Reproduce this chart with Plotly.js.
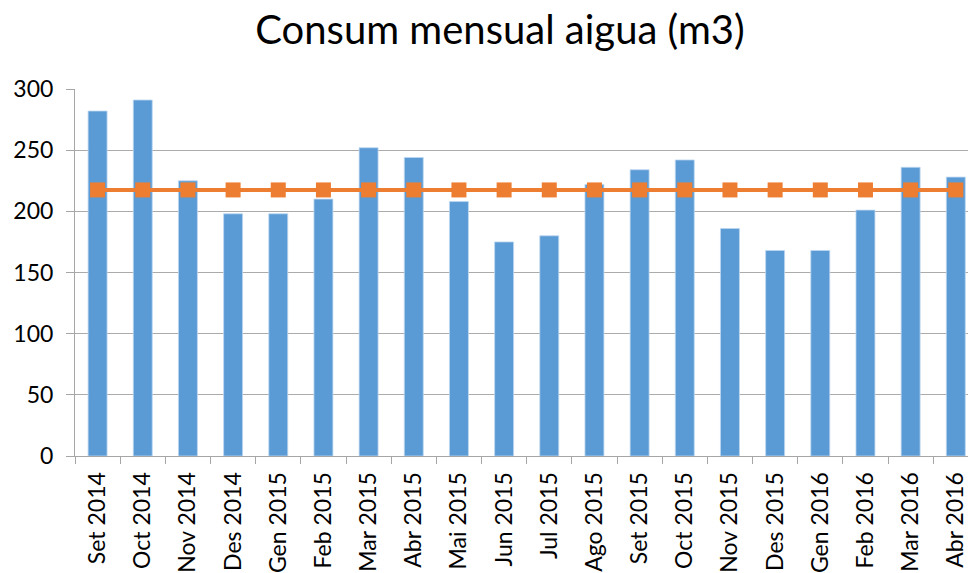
<!DOCTYPE html>
<html>
<head>
<meta charset="utf-8">
<script src="https://cdn.plot.ly/plotly-3.0.1.min.js"></script>
<style>html,body{margin:0;padding:0;overflow:hidden;background:#fff}#chart{width:968px;height:573px}</style>
</head>
<body>
<div id="chart"></div>
<script>
const months = ["Set 2014","Oct 2014","Nov 2014","Des 2014","Gen 2015","Feb 2015","Mar 2015","Abr 2015","Mai 2015","Jun 2015","Jul 2015","Ago 2015","Set 2015","Oct 2015","Nov 2015","Des 2015","Gen 2016","Feb 2016","Mar 2016","Abr 2016"];
const consum = [282,291,225,198,198,210,252,244,208,175,180,222,234,242,186,168,168,201,236,228];
const mitjana = [217.5,217.5,217.5,217.5,217.5,217.5,217.5,217.5,217.5,217.5,217.5,217.5,217.5,217.5,217.5,217.5,217.5,217.5,217.5,217.5];

const font = "Lato, Calibri, Carlito, sans-serif";
const data = [
  {type:"bar", x:months, y:consum, marker:{color:"#5B9BD5", line:{color:"rgba(190,215,240,0.8)", width:1}}, hoverinfo:"x+y"},
  {type:"scatter", mode:"lines+markers", x:months, y:mitjana,
   line:{color:"#ED7D31", width:4}, marker:{symbol:"square", size:15, color:"#ED7D31"}}
];
const layout = {
  width:968, height:573,
  margin:{l:75, r:0, t:89, b:117},
  paper_bgcolor:"#fff", plot_bgcolor:"#fff",
  showlegend:false,
  bargap:0.58,
  title:{text:"Consum mensual aigua (m3)", font:{family:font, size:40, color:"#000"}, x:500/968, xanchor:"center", xref:"container", y:1-30/573, yanchor:"middle"},
  xaxis:{type:"category", range:[-0.5, 19.27], showgrid:false, showline:true, linecolor:"#A6A6A6", linewidth:1,
    ticks:"outside", tickson:"boundaries", ticklen:7, tickcolor:"#A6A6A6", tickangle:-90, ticklabelstandoff:6,
    tickfont:{family:font, size:23, color:"#000"}, automargin:false, fixedrange:true},
  yaxis:{range:[0,300], dtick:50, tick0:0, showgrid:true, gridcolor:"#ABABAB", gridwidth:1,
    showline:true, linecolor:"#A6A6A6", linewidth:1, ticks:"outside", ticklen:8, tickcolor:"#A6A6A6", ticklabelstandoff:8,
    tickfont:{family:font, size:23, color:"#000"}, zeroline:false, automargin:false, fixedrange:true}
};
Plotly.newPlot("chart", data, layout, {displayModeBar:false, staticPlot:true});
</script>
</body>
</html>
